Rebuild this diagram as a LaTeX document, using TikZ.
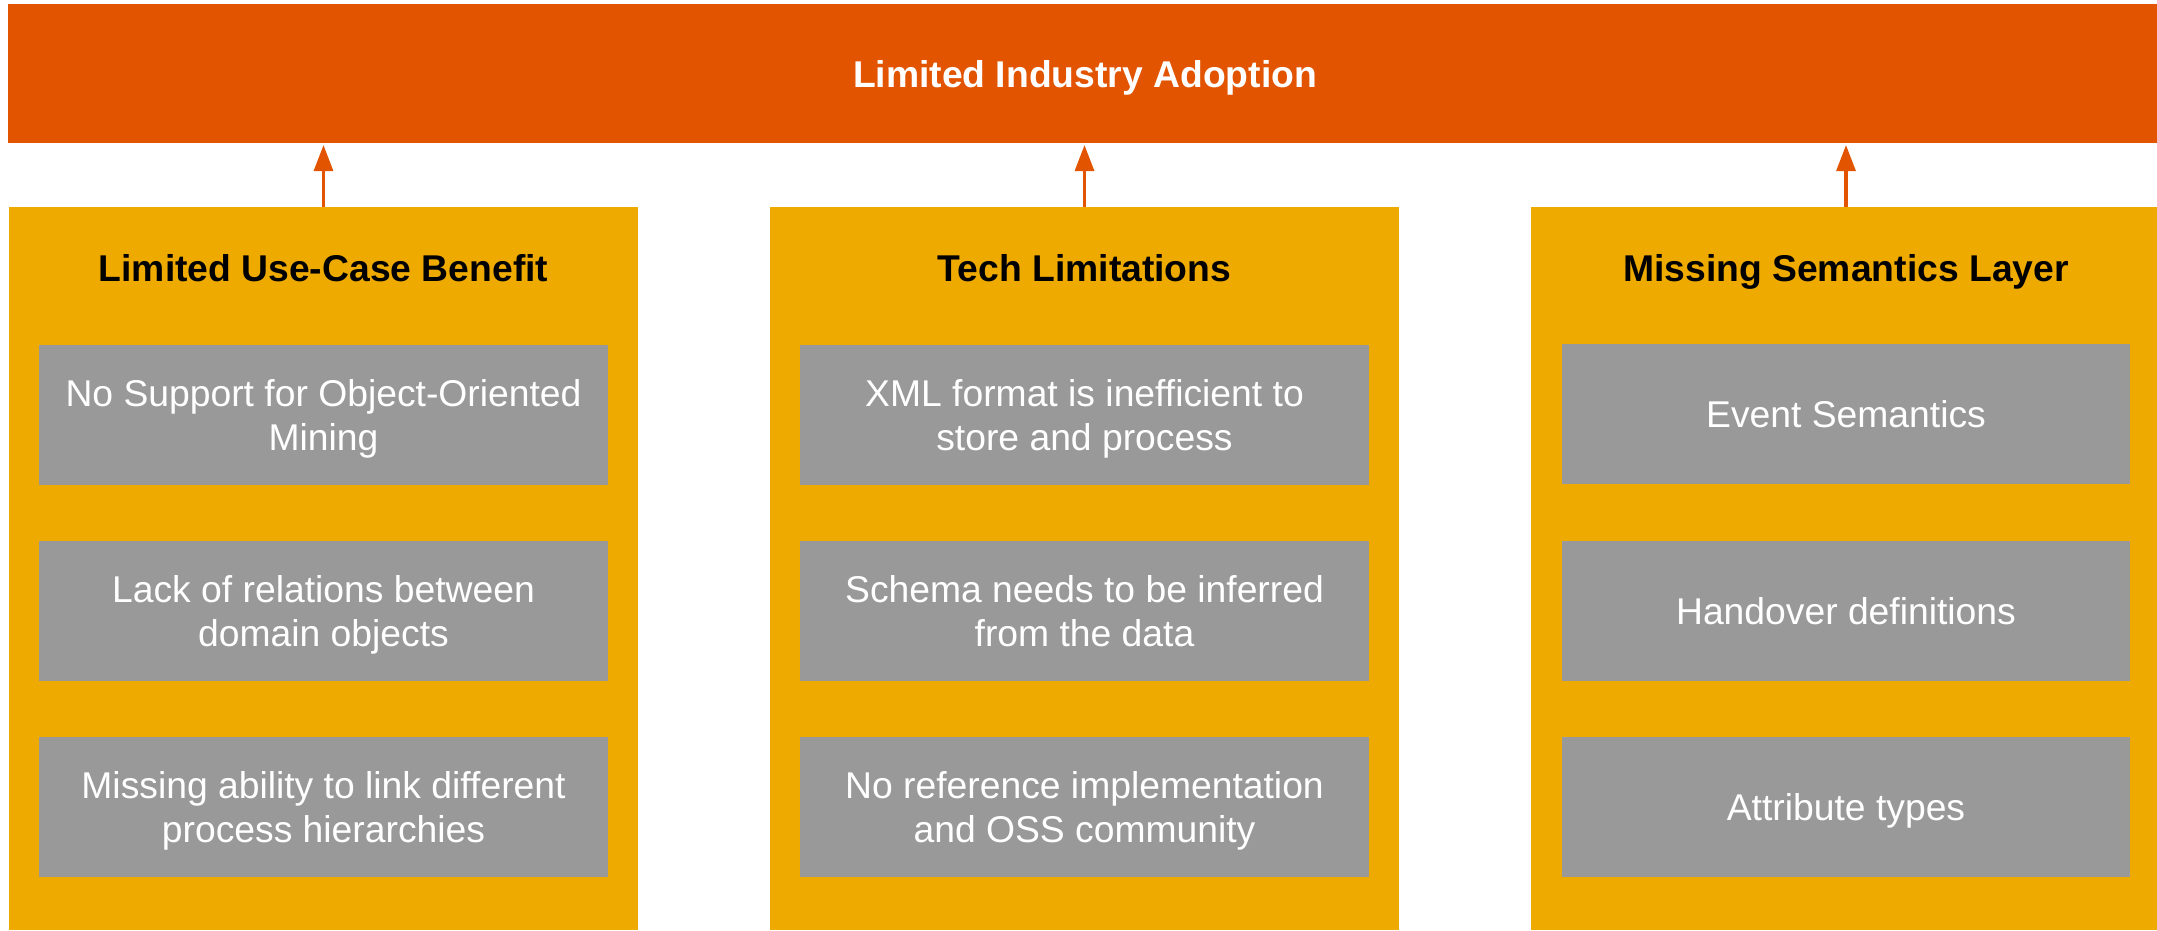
\documentclass[tikz,border=0pt]{standalone}
\usepackage{fontspec}
\setmainfont{Liberation Sans}
\usetikzlibrary{arrows.meta,positioning}
\definecolor{barorange}{RGB}{226,84,0}
\definecolor{panelyellow}{RGB}{239,170,0}
\definecolor{itemgray}{RGB}{153,153,153}
\newcommand{\diagsize}{\fontsize{10.6pt}{12.4pt}\selectfont}

\begin{document}
\begin{tikzpicture} [
		x=0.01cm, y=-0.01cm,
		goal/.style    = { rectangle, fill=barorange, text=white, font=\diagsize\bfseries,
			minimum width=21.52cm, minimum height=1.39cm, text depth=0pt,
			inner sep=0pt, outer sep=0pt },
		panel/.style   = { rectangle, fill=panelyellow, minimum width=6.29cm,
			minimum height=7.23cm, inner sep=0pt, outer sep=0pt },
		heading/.style = { text=black, font=\diagsize\bfseries, anchor=base, inner sep=0pt },
		item/.style    = { rectangle, fill=itemgray, text=white, font=\diagsize,
			align=center, text depth=0pt, minimum width=5.68cm, minimum height=1.40cm,
			inner sep=0pt, outer sep=0pt },
		link/.style    = { draw=barorange, line width=0.9pt,
			-{Triangle[width=0.19cm,length=0.26cm]}, shorten >=0.02cm },
	]
	\useasboundingbox (0,0) rectangle (2157,930);
	% goal and the three cause panels
	\begin{scope}
		\node [goal] (adoption) at (1085,73.5) {Limited Industry Adoption};
		\node [panel] (benefit) at (323.5,568.5) {};
		\node [panel] (tech) at (1084.5,568.5) {};
		\node [panel] (semantics) at (1846,568.5) {};
		\node [heading] (benefitTitle) at ([yshift=-0.75cm]benefit.north) {Limited Use-Case Benefit};
		\node [heading] (techTitle) at ([yshift=-0.75cm]tech.north) {Tech Limitations};
		\node [heading] (semanticsTitle) at ([yshift=-0.75cm]semantics.north) {Missing Semantics Layer};
	\end{scope}
	% items inside the panels
	\begin{scope}
		\node [item, below=1.38cm of benefit.north] (benefit1) {No Support for Object-Oriented\\Mining};
		\node [item, below=0.56cm of benefit1] (benefit2) {Lack of relations between\\domain objects};
		\node [item, below=0.56cm of benefit2] (benefit3) {Missing ability to link different\\process hierarchies};
		\node [item, below=1.38cm of tech.north] (tech1) {XML format is inefficient to\\store and process};
		\node [item, below=0.56cm of tech1] (tech2) {Schema needs to be inferred\\from the data};
		\node [item, below=0.56cm of tech2] (tech3) {No reference implementation\\and OSS community};
		\node [item, below=1.37cm of semantics.north] (semantics1) {Event Semantics};
		\node [item, below=0.57cm of semantics1] (semantics2) {Handover definitions};
		\node [item, below=0.56cm of semantics2] (semantics3) {Attribute types};
	\end{scope}
	% connect panels to the goal
	\begin{scope} [every path/.style=link]
		\path (benefit.north) -- (benefit.north |- adoption.south);
		\path (tech.north) -- (tech.north |- adoption.south);
		\path (semantics.north) -- (semantics.north |- adoption.south);
	\end{scope}
\end{tikzpicture}
\end{document}
